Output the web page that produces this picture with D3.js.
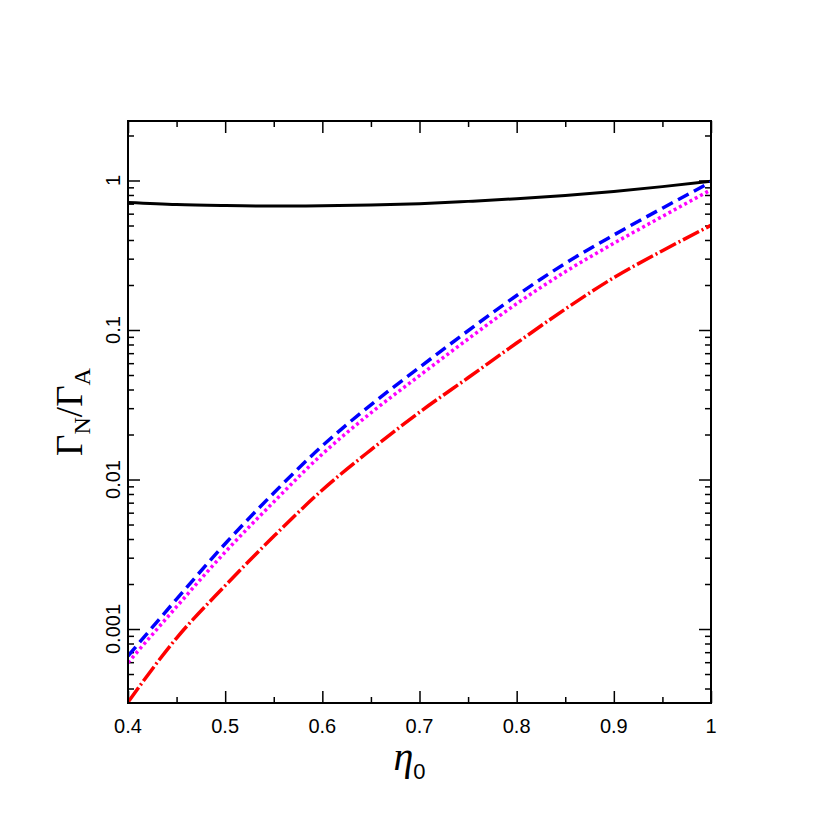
<!DOCTYPE html>
<html>
<head>
<meta charset="utf-8">
<script src="https://cdn.jsdelivr.net/npm/d3@7"></script>
<style>
  body { margin: 0; background: #fff; }
  svg { display: block; }
</style>
</head>
<body>
<svg id="plot"></svg>
<script>
// values
const eta = [0.40, 0.45, 0.50, 0.55, 0.60, 0.65, 0.70, 0.75, 0.80, 0.85, 0.90, 0.95, 1.00];
const ratioBlack   = [0.712, 0.690, 0.680, 0.675, 0.677, 0.685, 0.700, 0.725, 0.755, 0.795, 0.845, 0.910, 0.990];
const ratioBlue    = [0.00066, 0.001585, 0.00372, 0.00813, 0.0168, 0.0316, 0.0562, 0.0989, 0.170, 0.279, 0.432, 0.653, 0.977];
const ratioMagenta = [0.000596, 0.00141, 0.00327, 0.00708, 0.0148, 0.0279, 0.0495, 0.0871, 0.150, 0.245, 0.380, 0.575, 0.867];
const ratioRed     = [0.000324, 0.00087, 0.00195, 0.00417, 0.00851, 0.0158, 0.0282, 0.0479, 0.0818, 0.138, 0.224, 0.339, 0.501];

const xMajor = [0.4, 0.5, 0.6, 0.7, 0.8, 0.9, 1.0];
const xMajorLabels = ["0.4", "0.5", "0.6", "0.7", "0.8", "0.9", "1"];
const xMinor = [0.45, 0.55, 0.65, 0.75, 0.85, 0.95];
const yMajor = [0.001, 0.01, 0.1, 1];
const yMajorLabels = ["0.001", "0.01", "0.1", "1"];

const width = 830, height = 830;
const margin = { top: 121, right: 119, bottom: 127, left: 128 };
const w = width - margin.left - margin.right;
const h = height - margin.top - margin.bottom;

const svg = d3.select("#plot").attr("width", width).attr("height", height);

const x = d3.scaleLinear().domain([0.4, 1.0]).range([0, w]);
const y = d3.scaleLog().domain([3.2e-4, 2.5]).range([h, 0]);

// minor log ticks 2..9 per decade inside the domain
let yMinor = [];
for (let e = -4; e <= 0; e++) {
    for (let k = 2; k <= 9; k++) {
        let v = k * Math.pow(10, e);
        if (v >= y.domain()[0] && v <= y.domain()[1]) yMinor.push(v);
    }
}

const g = svg.append("g").attr("transform", "translate(" + margin.left + "," + margin.top + ")");

g.append("clipPath").attr("id", "clip")
    .append("rect").attr("width", w).attr("height", h);

// ticks on all four sides, pointing inward
function tickAxis(axis, tf) {
    const a = g.append("g").attr("transform", tf).call(axis);
    a.select(".domain").remove();
    a.selectAll("line").attr("stroke", "#000").attr("stroke-width", 1.5);
    a.selectAll("text").remove();
}
tickAxis(d3.axisTop(x).tickValues(xMajor).tickSize(12), "translate(0," + h + ")");
tickAxis(d3.axisTop(x).tickValues(xMinor).tickSize(6), "translate(0," + h + ")");
tickAxis(d3.axisBottom(x).tickValues(xMajor).tickSize(12), "translate(0,0)");
tickAxis(d3.axisBottom(x).tickValues(xMinor).tickSize(6), "translate(0,0)");
tickAxis(d3.axisRight(y).tickValues(yMajor).tickSize(12), "translate(0,0)");
tickAxis(d3.axisRight(y).tickValues(yMinor).tickSize(6), "translate(0,0)");
tickAxis(d3.axisLeft(y).tickValues(yMajor).tickSize(12), "translate(" + w + ",0)");
tickAxis(d3.axisLeft(y).tickValues(yMinor).tickSize(6), "translate(" + w + ",0)");

// tick labels
g.selectAll(".xlab").data(xMajor).enter().append("text")
    .attr("x", d => x(d))
    .attr("y", h + 30)
    .attr("text-anchor", "middle")
    .style("font-family", "'Liberation Sans', Arial, sans-serif")
    .style("font-size", "20px")
    .text((d, i) => xMajorLabels[i]);

g.selectAll(".ylab").data(yMajor).enter().append("text")
    .attr("transform", d => "translate(-8," + y(d) + ") rotate(-90)")
    .attr("text-anchor", "middle")
    .style("font-family", "'Liberation Sans', Arial, sans-serif")
    .style("font-size", "20px")
    .text((d, i) => yMajorLabels[i]);

// curves
const series = [
    { values: ratioBlack,   color: "#000",    width: 3,   dash: null },
    { values: ratioBlue,    color: "#0000ff", width: 3.5, dash: "12,6" },
    { values: ratioMagenta, color: "#ff00ff", width: 3.5, dash: "3,3" },
    { values: ratioRed,     color: "#ff0000", width: 3.5, dash: "18,3,2,3" }
];

const line = d3.line()
    .x(d => x(d[0]))
    .y(d => y(d[1]))
    .curve(d3.curveMonotoneX);

const lines = g.append("g").attr("clip-path", "url(#clip)");
series.forEach(function (s) {
    lines.append("path")
        .datum(eta.map((e, i) => [e, s.values[i]]))
        .attr("fill", "none")
        .attr("stroke", s.color)
        .attr("stroke-width", s.width)
        .attr("stroke-dasharray", s.dash)
        .attr("d", line);
});

// frame
g.append("rect")
    .attr("width", w).attr("height", h)
    .attr("fill", "none").attr("stroke", "#000").attr("stroke-width", 2);

// axis titles
const xt = svg.append("text")
    .attr("x", margin.left + w / 2 - 10)
    .attr("y", 770)
    .attr("text-anchor", "middle");
xt.append("tspan")
    .style("font-family", "'Liberation Serif', 'Times New Roman', serif")
    .style("font-style", "italic")
    .style("font-size", "40px")
    .text("η");
xt.append("tspan")
    .attr("dy", 9)
    .style("font-family", "'Liberation Sans', Arial, sans-serif")
    .style("font-size", "22px")
    .text("0");

const yt = svg.append("text")
    .attr("transform", "translate(82," + (margin.top + h / 2) + ") rotate(-90)")
    .attr("text-anchor", "middle")
    .style("font-family", "'Liberation Serif', 'Times New Roman', serif");
yt.append("tspan").style("font-size", "37px").text("Γ");
yt.append("tspan").attr("dy", 8).style("font-size", "24px").text("N");
yt.append("tspan").attr("dy", -8).style("font-size", "37px").text("/Γ");
yt.append("tspan").attr("dy", 8).style("font-size", "24px").text("A");
</script>
</body>
</html>
